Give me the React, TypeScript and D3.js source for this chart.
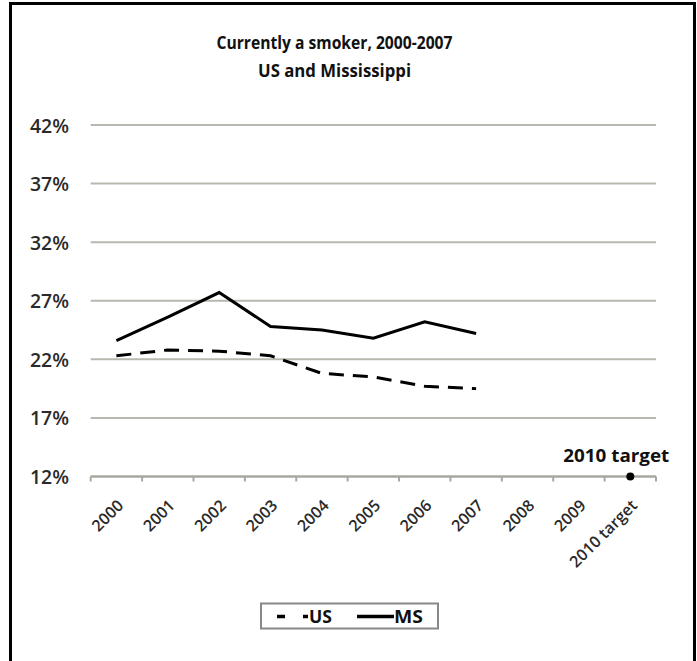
import React from "react";
import * as d3 from "d3";

const categories = ["2000", "2001", "2002", "2003", "2004", "2005", "2006", "2007", "2008", "2009", "2010 target"];
const usValues: (number | null)[] = [22.3, 22.8, 22.7, 22.3, 20.8, 20.5, 19.7, 19.5, null, null, null];
const msValues: (number | null)[] = [23.6, 25.6, 27.7, 24.8, 24.5, 23.8, 25.2, 24.2, null, null, null];
const targetValues: (number | null)[] = [null, null, null, null, null, null, null, null, null, null, 12];
const yTicks = [12, 17, 22, 27, 32, 37, 42];
const titleLines = ["Currently a smoker, 2000-2007", "US and Mississippi"];
const seriesNames = ["US", "MS"];

const W = 697;
const H = 661;
const FONT = "'Open Sans', 'DejaVu Sans', sans-serif";

export default function App() {
  const x = d3.scaleBand<string>().domain(categories).range([90.7, 656]).padding(0);
  const y = d3.scaleLinear().domain([12, 42]).range([476.5, 125]);
  const cx = (c: string) => (x(c) as number) + x.bandwidth() / 2;

  const line = d3
    .line<[string, number | null]>()
    .defined((d) => d[1] != null)
    .x((d) => cx(d[0]))
    .y((d) => y(d[1] as number));

  const usPath = line(categories.map((c, i) => [c, usValues[i]]));
  const msPath = line(categories.map((c, i) => [c, msValues[i]]));

  const boundaries = categories.map((c) => x(c) as number).concat([x.range()[1]]);
  const [x0, x1] = x.range();

  return (
    <svg width={W} height={H} style={{ position: "absolute", left: 0, top: 0, background: "#fff" }} fontFamily={FONT}>
      <rect x={10.5} y={3.5} width={684} height={700} fill="#fff" stroke="#000" strokeWidth={3} />
      <text x={334.5} y={48.5} textAnchor="middle" fontSize={17.5} fontWeight={700} fill="#111" textLength={236} lengthAdjust="spacingAndGlyphs">
        {titleLines[0]}
      </text>
      <text x={334.5} y={77} textAnchor="middle" fontSize={17.5} fontWeight={700} fill="#111" textLength={153} lengthAdjust="spacingAndGlyphs">
        {titleLines[1]}
      </text>
      {yTicks.slice(1).map((v) => (
        <line key={v} x1={x0} x2={x1} y1={y(v)} y2={y(v)} stroke="#b8b8b0" strokeWidth={2} />
      ))}
      <line x1={x0} x2={x1} y1={y(12)} y2={y(12)} stroke="#a8a8a0" strokeWidth={2.5} />
      {boundaries.map((b, i) => (
        <line key={i} x1={b} x2={b} y1={y(12)} y2={y(12) + 5} stroke="#a8a8a0" strokeWidth={2} />
      ))}
      {yTicks.map((v) => (
        <text key={v} x={69} y={y(v) + 7.5} textAnchor="end" fontSize={19} fontWeight={600} fill="#2a2a2a" textLength={39} lengthAdjust="spacingAndGlyphs">
          {v}%
        </text>
      ))}
      {categories.map((c) => (
        <text
          key={c}
          transform={`translate(${cx(c) + 8},${y(12) + 30}) rotate(-45)`}
          textAnchor="end"
          fontSize={16}
          fontWeight={600}
          fill="#2a2a2a"
        >
          {c}
        </text>
      ))}
      <path d={usPath || ""} fill="none" stroke="#000" strokeWidth={3} strokeDasharray="15,9" />
      <path d={msPath || ""} fill="none" stroke="#000" strokeWidth={3} />
      {categories.map((c, i) =>
        targetValues[i] != null ? (
          <g key={c}>
            <circle cx={cx(c)} cy={y(targetValues[i] as number)} r={4} fill="#000" />
            <text x={cx(c) - 14} y={y(targetValues[i] as number) - 15} textAnchor="middle" fontSize={18} fontWeight={700} fill="#111" textLength={106} lengthAdjust="spacingAndGlyphs">
              2010 target
            </text>
          </g>
        ) : null
      )}
      <g>
        <rect x={261} y={603.5} width={177} height={25} fill="#fff" stroke="#888" strokeWidth={2} />
        <line x1={277} x2={308} y1={616.5} y2={616.5} stroke="#000" strokeWidth={3.5} strokeDasharray="8,18" />
        <text x={309} y={623} fontSize={18} fontWeight={700} fill="#111" textLength={23} lengthAdjust="spacingAndGlyphs">{seriesNames[0]}</text>
        <line x1={357} x2={394} y1={616.5} y2={616.5} stroke="#000" strokeWidth={3.5} />
        <text x={394} y={623} fontSize={18} fontWeight={700} fill="#111" textLength={29} lengthAdjust="spacingAndGlyphs">{seriesNames[1]}</text>
      </g>
    </svg>
  );
}
